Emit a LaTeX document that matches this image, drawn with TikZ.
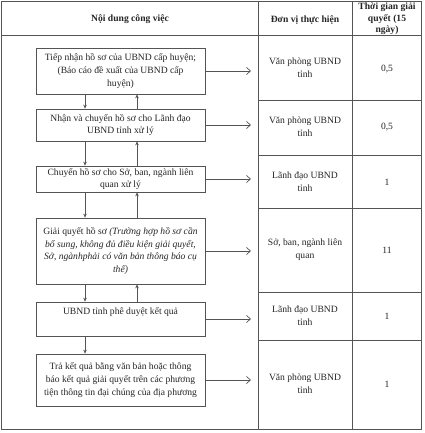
\documentclass[tikz,border=0pt]{standalone}
\usepackage{fontspec}
\setmainfont{Liberation Serif}
\usetikzlibrary{arrows.meta}
\definecolor{ln}{rgb}{0.33,0.33,0.33}
\definecolor{tx}{rgb}{0.15,0.15,0.15}
\begin{document}
\begin{tikzpicture}[x=1pt,y=-1pt,
  every node/.style={text=tx,font=\fontsize{9.6}{12.8}\selectfont},
  stepbox/.style={draw=ln,line width=0.7pt,minimum width=169pt,align=center,inner sep=2pt},
  cell/.style={align=center,inner sep=1pt},
  hcell/.style={align=center,inner sep=1pt,font=\bfseries\fontsize{9.6}{12}\selectfont},
  tbl/.style={draw=ln,line width=0.6pt},
  flow/.style={draw=ln,line width=0.7pt,-{Stealth[length=4pt,width=3.5pt]}},
  outarrow/.style={draw=ln,line width=0.7pt,-{Straight Barb[length=4pt,width=7pt]}}]
\useasboundingbox (0,0) rectangle (424,433);
\fill[white] (0,0) rectangle (424,433);
% table
\draw[tbl] (1,1) rectangle (421,429);
\draw[tbl] (1,35) -- (421,35);
\draw[tbl] (258,1) -- (258,429);
\draw[tbl] (352,1) -- (352,429);
\foreach \yy in {100,155,208,292,340} \draw[tbl] (258,\yy) -- (421,\yy);
% header
\node[hcell] (h1) at (130,19) {Nội dung công việc};
\node[hcell] (h2) at (305,20) {Đơn vị thực hiện};
\node[hcell,font=\bfseries\fontsize{9.6}{11.5}\selectfont] (h3) at (387,19) {Thời gian giải\\quyết (15\\ngày)};
% boxes
\node[stepbox,minimum height=46pt] (b1) at (120.5,71) {Tiếp nhận hồ sơ của UBND cấp huyện;\\(Báo cáo đề xuất của UBND cấp\\huyện)};
\node[stepbox,minimum height=32pt] (b2) at (120.5,125) {Nhận và chuyển hồ sơ cho Lãnh đạo\\UBND tỉnh xử lý};
\node[stepbox,minimum height=26pt] (b3) at (120.5,179) {Chuyển hồ sơ cho Sở, ban, ngành liên\\quan xử lý};
\node[stepbox,minimum height=66pt] (b4) at (120.5,251) {Giải quyết hồ sơ \textit{(Trường hợp hồ sơ cần}\\\textit{bổ sung, không đủ điều kiện giải quyết,}\\\textit{Sở, ngànhphải có văn bản thông báo cụ}\\\textit{thể)}};
\node[stepbox,minimum height=34pt] (b5) at (120.5,319) {UBND tỉnh phê duyệt kết quả\\\strut};
\node[stepbox,minimum height=52pt] (b6) at (120.5,380) {Trả kết quả bằng văn bản hoặc thông\\báo kết quả giải quyết trên các phương\\tiện thông tin đại chúng của địa phương};
% unit column
\node[cell] (u1) at (305,68) {Văn phòng UBND\\tỉnh};
\node[cell] (u2) at (305,127) {Văn phòng UBND\\tỉnh};
\node[cell] (u3) at (305,182) {Lãnh đạo UBND\\tỉnh};
\node[cell] (u4) at (305,250) {Sở, ban, ngành liên\\quan};
\node[cell] (u5) at (305,316) {Lãnh đạo UBND\\tỉnh};
\node[cell] (u6) at (305,384) {Văn phòng UBND\\tỉnh};
% time column
\node[cell] (t1) at (387,69) {0,5};
\node[cell] (t2) at (387,127) {0,5};
\node[cell] (t3) at (387,182) {1};
\node[cell] (t4) at (387,250) {11};
\node[cell] (t5) at (387,316) {1};
\node[cell] (t6) at (387,384) {1};
% connector columns
\coordinate (L) at (85,0);
\coordinate (R) at (137,0);
\foreach \a/\b in {b1/b2,b2/b3,b3/b4,b4/b5}{
  \draw[flow] (\a.south -| L) -- (\b.north -| L);
  \draw[flow] (\b.north -| R) -- (\a.south -| R);
}
\draw[flow] (b5.south -| L) -- (b6.north -| L);
% outgoing arrows
\coordinate (E) at (251,0);
\foreach \b in {b1,b2,b3,b4,b5,b6}{
  \coordinate (\b e) at (\b.east -| E);
  \draw[outarrow] (\b.east) -- (\b e);
}
\end{tikzpicture}
\end{document}
